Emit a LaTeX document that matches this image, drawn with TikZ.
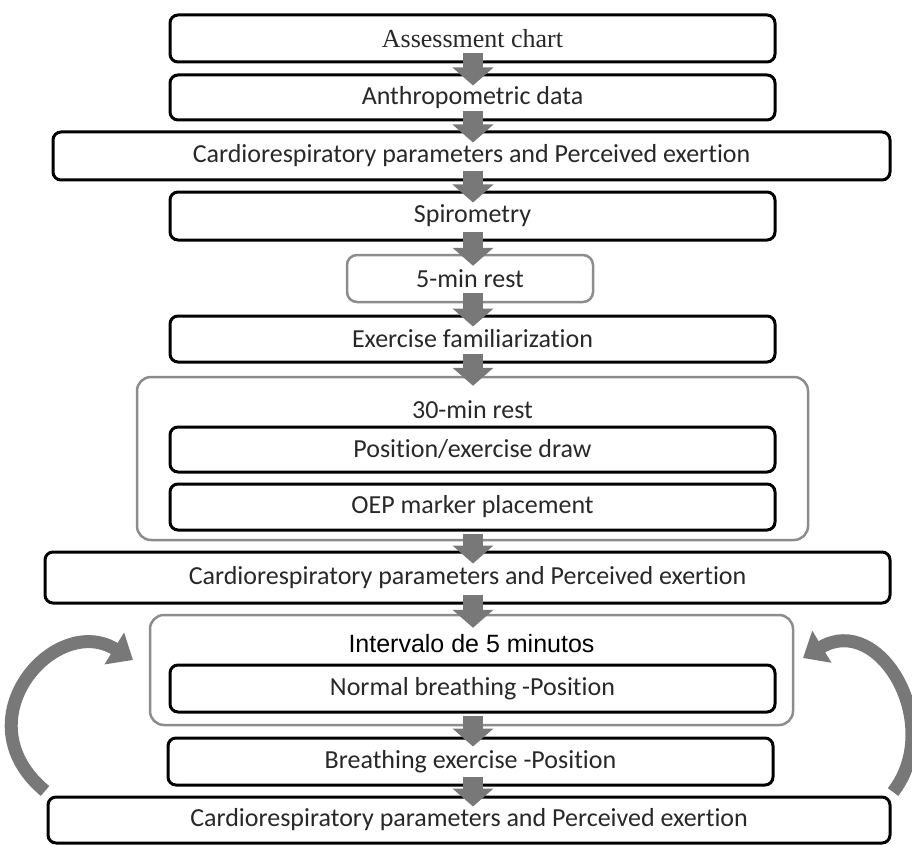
\documentclass[tikz,border=0pt]{standalone}
\usepackage{fontspec}
\setmainfont[Ligatures=NoCommon]{Carlito}
\newfontfamily\serifx{Liberation Serif}
\newfontfamily\arialx{Liberation Sans}
\usetikzlibrary{arrows.meta}
\definecolor{arrowgray}{RGB}{120,120,120}
\definecolor{framegray}{RGB}{140,140,140}
\definecolor{txt}{RGB}{40,40,40}
\begin{document}
\begin{tikzpicture}[x=1pt,y=-1pt,
  box/.style={draw=black, line width=3pt, rounded corners=8pt, fill=white, inner sep=0pt,
    text=txt, font=\fontsize{26}{30}\selectfont},
  graybox/.style={draw=framegray, line width=2.5pt, rounded corners=14pt, inner sep=0pt},
  grayfill/.style={graybox, fill=white},
  title/.style={inner sep=0pt, text=txt, font=\fontsize{26}{30}\selectfont},
  flow/.style={draw=arrowgray, line width=20pt, -{Triangle[width=40pt,length=18pt]}},
  looparrow/.style={draw=arrowgray, line width=13pt, -{Triangle[width=36pt,length=22pt]}}]
\useasboundingbox (0,0) rectangle (912,845);
\coordinate (ax) at (473,0);
% boxes
\node[box, minimum width=605pt, minimum height=47pt, font=\serifx\fontsize{26}{30}\selectfont] (b1) at (472.5,38.5) {Assessment chart};
\node[box, minimum width=605pt, minimum height=45pt] (b2) at (472.5,97.5) {Anthropometric data};
\node[box, minimum width=837pt, minimum height=48pt] (b3) at (471.5,156) {Cardiorespiratory parameters and Perceived exertion};
\node[box, minimum width=605pt, minimum height=48pt] (b4) at (472.5,216) {Spirometry};
\node[grayfill, rounded corners=10pt, minimum width=246pt, minimum height=47pt, text=txt, font=\fontsize{26}{30}\selectfont] (b5) at (470,278.5) {5-min rest};
\node[box, minimum width=605pt, minimum height=46pt] (b6) at (472.5,339) {Exercise familiarization};
% group 1
\node[graybox, minimum width=671pt, minimum height=163pt] (g1) at (472.5,458.5) {};
\node[title] (g1t) at (472.5,410) {30-min rest};
\node[box, minimum width=605pt, minimum height=45pt] (i1) at (472.5,449.5) {Position/exercise draw};
\node[box, minimum width=605pt, minimum height=46pt] (i2) at (472.5,507) {OEP marker placement};
\node[box, minimum width=845pt, minimum height=51pt] (b7) at (467.5,577.5) {Cardiorespiratory parameters and Perceived exertion};
% group 2
\node[graybox, minimum width=643pt, minimum height=110pt] (g2) at (471.5,670) {};
\node[title, font=\arialx\fontsize{25}{29}\selectfont, text=black] (g2t) at (471.5,644) {Intervalo de 5 minutos};
\node[box, minimum width=605pt, minimum height=47pt] (i3) at (472.5,688.5) {Normal breathing -Position};
\node[box, minimum width=605pt, minimum height=47pt] (b8) at (470.5,761.5) {Breathing exercise -Position};
\node[box, minimum width=842pt, minimum height=46pt] (b9) at (469,820) {Cardiorespiratory parameters and Perceived exertion};
% flow arrows
\draw[flow] ([yshift=10pt]ax |- b1.south) -- ([yshift=-12pt]ax |- b2.north);
\draw[flow] ([yshift=10pt]ax |- b2.south) -- ([yshift=-12pt]ax |- b3.north);
\draw[flow] ([yshift=10pt]ax |- b3.south) -- ([yshift=-12pt]ax |- b4.north);
\draw[flow] ([yshift=10pt]ax |- b4.south) -- ([yshift=-12pt]ax |- b5.north);
\draw[flow] ([yshift=10pt]ax |- b5.south) -- ([yshift=-12pt]ax |- b6.north);
\draw[flow] ([yshift=10pt]ax |- b6.south) -- ([yshift=-10pt]ax |- g1.north);
\draw[flow] ([yshift=-2pt]ax |- i2.south) -- ([yshift=-13pt]ax |- b7.north);
\draw[flow] ([yshift=10pt]ax |- b7.south) -- ([yshift=-14pt]ax |- g2.north);
\draw[flow] ([yshift=-2pt]ax |- i3.south) -- ([yshift=-10pt]ax |- b8.north);
\draw[flow] ([yshift=10pt]ax |- b8.south) -- ([yshift=-11pt]ax |- b9.north);
% loop arrows
\coordinate (lt) at (45,791);
\coordinate (rt) at (893,792);
\coordinate (lh) at (133,660);
\coordinate (rh) at (803,658);
\draw[looparrow] (lt) .. controls (-40,720) and (55,612) .. (lh);
\draw[looparrow] (rt) .. controls (945,725) and (880,612) .. (rh);
\end{tikzpicture}
\end{document}
